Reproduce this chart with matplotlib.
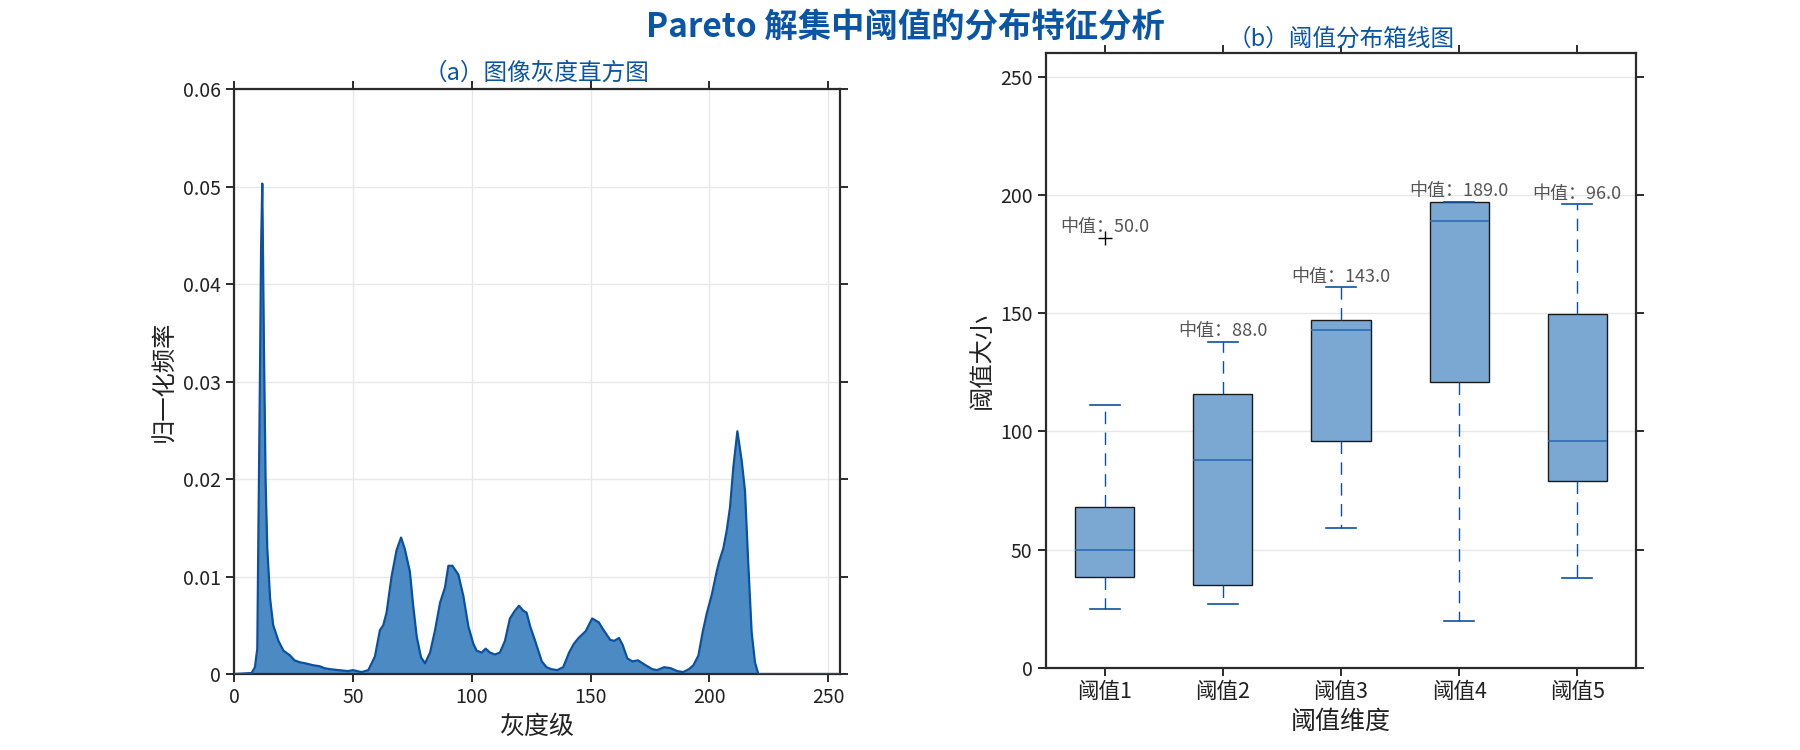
import numpy as np
import matplotlib
matplotlib.use("Agg")
import matplotlib.pyplot as plt
from matplotlib.ticker import FuncFormatter

plt.rcParams['font.family'] = ['Noto Sans CJK SC', 'DejaVu Sans']
plt.rcParams['axes.unicode_minus'] = False

#################################################
# data

# (a) grey-level histogram
hist_gray = [0, 7.4, 8.8, 9.8, 10.2, 10.9, 11.4, 11.9, 12.6, 13.3, 14.0, 15.2, 16.5,
             18.7, 20.8, 23.6, 25.5, 27.8, 30, 33.3, 36, 38, 40.4, 44, 48, 50, 53.7,
             56.5, 59.3, 61.4, 62.8, 64.2, 66.3, 68.4, 70.3, 71.9, 74.0, 75.4, 76.9,
             78.7, 80.4, 82.5, 84.6, 86.7, 88.8, 90.2, 91.9, 94.4, 96.5, 98.6, 100.7,
             102.1, 104.2, 105.9, 107.7, 109.8, 111.9, 114.0, 116.1, 118.2, 119.9,
             121.7, 123.1, 124.6, 126.7, 129.5, 131.5, 133.5, 136, 138.5, 141, 143,
             145, 148, 150.7, 153.5, 155, 158.3, 160, 162, 163.5, 165.5, 167.6, 170,
             173.2, 176, 178, 181, 183.7, 186.5, 189, 191.4, 193.3, 195.4, 197.2,
             198.9, 201.0, 203.1, 204.2, 205.9, 207.3, 208.7, 210.1, 211.8, 213.6,
             215.0, 216.4, 217.8, 219.2, 220.6, 255]
hist_freq = [0, 0.0001, 0.0007, 0.0026, 0.0129, 0.0300, 0.0438, 0.0503, 0.0335, 0.0198,
             0.0129, 0.0077, 0.0050, 0.0034, 0.0024, 0.0019, 0.0014, 0.0012, 0.0011,
             0.0009, 0.0008, 0.0006, 0.0005, 0.0004, 0.0003, 0.0004, 0.0002, 0.0004,
             0.0018, 0.0045, 0.0050, 0.0063, 0.0100, 0.0127, 0.0140, 0.0128, 0.0105,
             0.0070, 0.0038, 0.0017, 0.0011, 0.0022, 0.0045, 0.0073, 0.0089, 0.0111,
             0.0111, 0.0102, 0.0080, 0.0049, 0.0031, 0.0024, 0.0022, 0.0026, 0.0022,
             0.0020, 0.0022, 0.0034, 0.0057, 0.0065, 0.0070, 0.0065, 0.0063, 0.0049,
             0.0034, 0.0013, 0.0007, 0.0005, 0.0004, 0.0007, 0.0022, 0.0031, 0.0037,
             0.0044, 0.0057, 0.0053, 0.0047, 0.0035, 0.0034, 0.0037, 0.0030, 0.0016,
             0.0013, 0.0014, 0.0009, 0.0005, 0.0004, 0.0007, 0.0006, 0.0003, 0.0002,
             0.0005, 0.0009, 0.0019, 0.0043, 0.0062, 0.0081, 0.0105, 0.0116, 0.0129,
             0.0147, 0.0171, 0.0212, 0.0249, 0.0219, 0.0188, 0.0112, 0.0043, 0.0012,
             0, 0]

# (b) threshold box plot
box_names = ['阈值1', '阈值2', '阈值3', '阈值4', '阈值5']
box_q1 = [38.5, 35, 96, 121, 79]
box_med = [50, 88, 143, 189, 96]
box_q3 = [68, 116, 147, 197, 149.5]
whisk_lo = [25, 27, 59, 20, 38]
whisk_hi = [111, 138, 161, 197, 196]
outliers = [[182], [], [], [], []]

#################################################

title_blue = '#0A55A5'
line_blue = '#0B51A0'
fill_blue = '#4C8AC3'
spine_col = '#2B2B2B'


def style_axes(ax, xgrid=True):
    for s in ax.spines.values():
        s.set_color(spine_col)
        s.set_linewidth(1.6)
    ax.tick_params(direction='out', top=True, right=True, length=6, width=1.4,
                   color=spine_col, labelsize=14, labelcolor='#222222')
    ax.grid(True, axis='y', color='#E8E8E8', linewidth=1.0)
    if xgrid:
        ax.grid(True, axis='x', color='#E8E8E8', linewidth=1.0)
    ax.set_axisbelow(True)


fig = plt.figure(figsize=(18, 7.5), dpi=100)

# (a) histogram
ax1 = fig.add_axes([0.130, 0.1013, 0.3367, 0.78])
ax1.fill_between(hist_gray, hist_freq, 0, color=fill_blue, linewidth=0, zorder=2)
ax1.plot(hist_gray, hist_freq, color=line_blue, linewidth=1.6, zorder=3,
         solid_joinstyle='round')
ax1.set_xlim(0, 255)
ax1.set_ylim(0, 0.06)
ax1.set_xticks([0, 50, 100, 150, 200, 250])
ax1.set_yticks([0, 0.01, 0.02, 0.03, 0.04, 0.05, 0.06])
ax1.yaxis.set_major_formatter(FuncFormatter(lambda v, p: '0' if v == 0 else f'{v:.2f}'))
style_axes(ax1)
ax1.set_xlabel('灰度级', fontsize=18, color='#222222')
ax1.set_ylabel('归一化频率', fontsize=17.5, color='#222222')
ax1.set_title('（a）图像灰度直方图', fontsize=17, color=title_blue, pad=7)

# (b) box plot
ax2 = fig.add_axes([0.581, 0.1093, 0.328, 0.82])
stats = []
for i in range(len(box_names)):
    stats.append(dict(label=box_names[i], q1=box_q1[i], med=box_med[i], q3=box_q3[i],
                      whislo=whisk_lo[i], whishi=whisk_hi[i], fliers=outliers[i]))
positions = np.arange(1, len(box_names) + 1)
ax2.bxp(stats, positions=positions, widths=0.5, patch_artist=True, showfliers=True,
        boxprops=dict(facecolor='#7AA8D3', edgecolor='#1A1A1A', linewidth=1.0),
        medianprops=dict(color='#2A6DB5', linewidth=1.2),
        whiskerprops=dict(color=line_blue, linewidth=1.0, linestyle=(0, (9, 6))),
        capprops=dict(color=line_blue, linewidth=1.2),
        capwidths=0.25,
        flierprops=dict(marker='+', markeredgecolor='k', markersize=10, linestyle='none'))

for i, pos in enumerate(positions):
    top = max([whisk_hi[i]] + outliers[i])
    ax2.text(pos, top + 4.5, f'中值：{box_med[i]:.1f}', ha='center', va='center',
             fontsize=13, color='#555555')

ax2.set_xlim(0.5, 5.5)
ax2.set_ylim(0, 260)
ax2.set_yticks([0, 50, 100, 150, 200, 250])
style_axes(ax2, xgrid=False)
ax2.tick_params(axis='x', labelsize=15.5)
ax2.set_xlabel('阈值维度', fontsize=18, color='#222222')
ax2.set_ylabel('阈值大小', fontsize=17.5, color='#222222')
ax2.set_title('（b）阈值分布箱线图', fontsize=17, color=title_blue, pad=5)

fig.text(0.503, 0.963, 'Pareto 解集中阈值的分布特征分析', ha='center', va='center',
         fontsize=24, fontweight='bold', color=title_blue)

fig.savefig('out.png', dpi=100)
